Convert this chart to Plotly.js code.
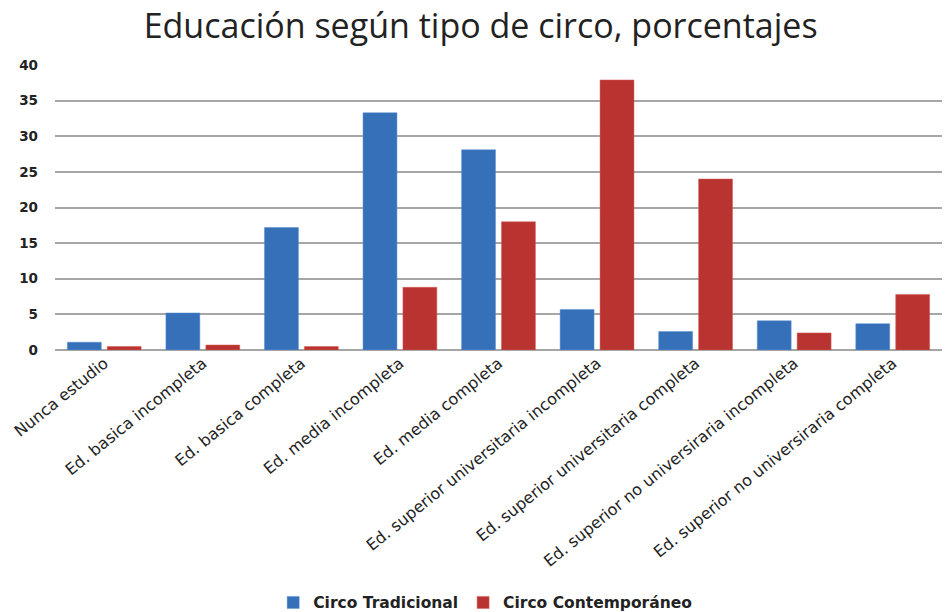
<!DOCTYPE html>
<html><head><meta charset="utf-8">
<script src="https://cdn.plot.ly/plotly-3.0.1.min.js"></script>
<style>body{margin:0;background:#fff}#c{width:948px;height:612px}</style>
</head><body><div id="c"></div>
<script>
const categories = ["Nunca estudio","Ed. basica incompleta","Ed. basica completa","Ed. media incompleta","Ed. media completa","Ed. superior universitaria incompleta","Ed. superior universitaria completa","Ed. superior no universiraria incompleta","Ed. superior no universiraria completa"];
const tradicional = [1.1, 5.2, 17.2, 33.3, 28.1, 5.7, 2.6, 4.1, 3.7];
const contemporaneo = [0.5, 0.7, 0.5, 8.8, 18.0, 37.9, 24.0, 2.4, 7.8];
const seriesNames = ["Circo Tradicional", "Circo Contemporáneo"];
const yTicks = [0,5,10,15,20,25,30,35,40];

const font = "'Open Sans', sans-serif";
const wide = "'DejaVu Sans', sans-serif";
const data = [
  {type:"bar", name:seriesNames[0], x:categories, y:tradicional,
   marker:{color:"#3570b9", line:{color:"#5b8fd0", width:0.5}}},
  {type:"bar", name:seriesNames[1], x:categories, y:contemporaneo,
   marker:{color:"#b93431", line:{color:"#d45a57", width:0.5}}}
];
const layout = {
  width:948, height:612,
  margin:{l:55, r:6, t:65, b:262},
  paper_bgcolor:"#fff", plot_bgcolor:"#fff",
  title:{text:"Educación según tipo de circo, porcentajes", x:0.507, xanchor:"center", yref:"container", y:0.958, yanchor:"middle",
    font:{family:font, size:34, color:"#222"}},
  bargap:0.19, bargroupgap:0.15,
  xaxis:{tickangle:-39, tickfont:{family:wide, size:16, color:"#222"}, showgrid:false, showline:false, ticks:"", automargin:false},
  yaxis:{range:[0,40], tickvals:yTicks, ticktext:yTicks.map(String), tickfont:{family:wide, size:13.5, color:"#222", weight:700},
    ticklabelstandoff:16,
    gridcolor:"#a6a6a6", gridwidth:1.5, zeroline:true, zerolinecolor:"#a6a6a6", zerolinewidth:1.5, showline:false, ticks:"", ticklen:0, automargin:false},
  showlegend:true,
  legend:{orientation:"h", x:0.485, xanchor:"center", yref:"container", y:0.015, yanchor:"middle", font:{family:wide, size:15.5, color:"#222", weight:700}, itemwidth:30, tracegroupgap:0},
};
Plotly.newPlot("c", data, layout, {displayModeBar:false});
</script></body></html>
